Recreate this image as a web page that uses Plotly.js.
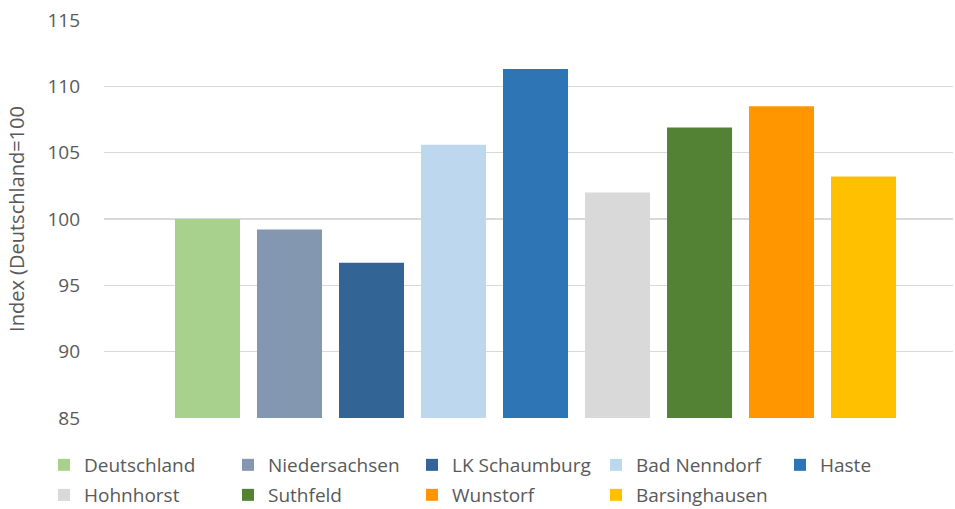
<!DOCTYPE html>
<html>
<head>
<meta charset="utf-8">
<script src="https://cdn.plot.ly/plotly-3.0.1.min.js"></script>
<style>html,body{margin:0;padding:0;background:#fff;}#chart{width:955px;height:509px;}</style>
</head>
<body>
<div id="chart"></div>
<script>
const regions = ["Deutschland","Niedersachsen","LK Schaumburg","Bad Nenndorf","Haste","Hohnhorst","Suthfeld","Wunstorf","Barsinghausen"];
const indexValues = [100.0, 99.2, 96.7, 105.6, 111.3, 102.0, 106.9, 108.5, 103.2];
const barColors = ["#A9D18E","#8497B0","#326496","#BDD7EE","#2E75B6","#D9D9D9","#548235","#FF9600","#FFC000"];
const yTicks = [85, 90, 95, 100, 105, 110, 115];
const yTitle = "Index (Deutschland=100";
const legendGroupOf = ['legend','legend','legend','legend','legend3','legend2','legend2','legend2','legend2'];

const fontFam = '"Open Sans", "Noto Sans", sans-serif';
const textColor = '#595959';

const traces = regions.map((name, i) => ({
  type: 'bar',
  name: name,
  x: [name],
  y: [indexValues[i]],
  marker: {color: barColors[i], line: {width: 0}},
  legend: legendGroupOf[i],
  hoverinfo: 'name+y'
}));

const legendBase = {
  orientation: 'h',
  xref: 'container',
  yref: 'container',
  x: 44/955,
  xanchor: 'left',
  yanchor: 'top',
  entrywidth: 139,
  entrywidthmode: 'pixels',
  font: {family: fontFam, color: textColor, size: 19},
  traceorder: 'normal',
  bgcolor: 'rgba(0,0,0,0)'
};

const layout = {
  width: 955,
  height: 509,
  margin: {l: 104, r: 2, t: 20, b: 91},
  paper_bgcolor: '#ffffff',
  plot_bgcolor: '#ffffff',
  barmode: 'overlay',
  bargap: 0.207,
  font: {family: fontFam, color: textColor, size: 18},
  xaxis: {
    type: 'category',
    categoryorder: 'array',
    categoryarray: regions,
    range: [-1.262, 9.091],
    showticklabels: false,
    showgrid: false,
    zeroline: false,
    showline: false,
    ticks: ''
  },
  yaxis: {
    range: [85, 115],
    tickvals: yTicks,
    ticktext: yTicks.map(String),
    showgrid: true,
    gridcolor: '#D9D9D9',
    gridwidth: 1.3,
    zeroline: false,
    showline: false,
    ticks: '',
    ticklabelstandoff: 23,
    tickfont: {family: fontFam, color: textColor, size: 19},
    title: {text: yTitle, font: {family: fontFam, color: textColor, size: 20}, standoff: 17}
  },
  showlegend: true,
  legend: Object.assign({}, legendBase, {y: 1 - 446/509}),
  legend3: Object.assign({}, legendBase, {x: (44 + 4*184)/955, y: 1 - 446/509, entrywidth: 80}),
  legend2: Object.assign({}, legendBase, {y: 1 - 476/509})
};

Plotly.newPlot('chart', traces, layout, {displayModeBar: false, staticPlot: true});
</script>
</body>
</html>
